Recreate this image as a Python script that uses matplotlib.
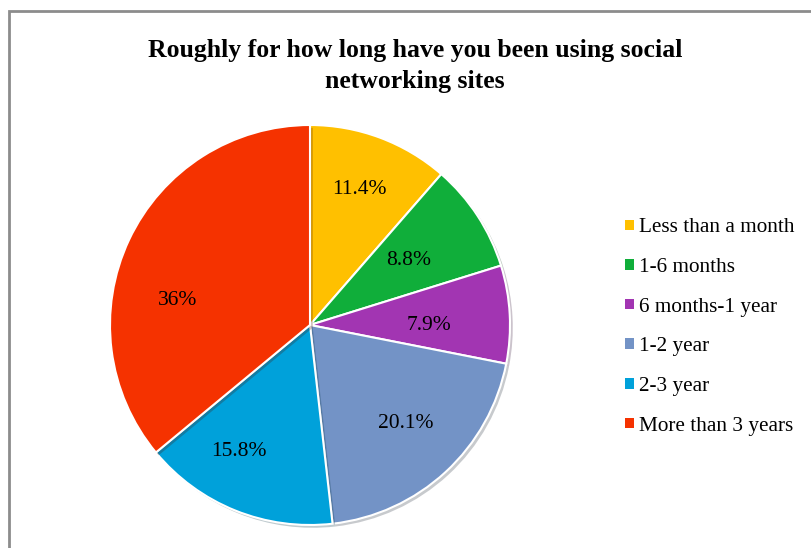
import matplotlib
matplotlib.use("Agg")
import matplotlib.pyplot as plt
from matplotlib.patches import Rectangle
import matplotlib.patheffects as pe

plt.rcParams['font.family'] = ['Liberation Serif', 'DejaVu Serif']

categories = ["Less than a month", "1-6 months", "6 months-1 year",
              "1-2 year", "2-3 year", "More than 3 years"]
shares = [11.4, 8.8, 7.9, 20.1, 15.8, 36]
pct_labels = ["11.4%", "8.8%", "7.9%", "20.1%", "15.8%", "36%"]
colors = ["#FFC000", "#10AE3A", "#A235B2", "#7393C6", "#00A1DA", "#F53200"]

# label anchor points inside each wedge (axes units, pie radius = 1)
label_xy = [(0.2475, 0.68), (0.495, 0.3225), (0.5925, 0.0),
            (0.4775, -0.4925), (-0.3575, -0.635), (-0.6625, 0.1225)]

W, H = 811, 548
fig = plt.figure(figsize=(W / 100, H / 100), dpi=100)

# chart frame (left and top edges visible)
fig.add_artist(Rectangle((8.5 / W, -0.1), 1.2, (H - 11.5) / H + 0.1,
                         transform=fig.transFigure, fill=False,
                         edgecolor="#8C8C8C", linewidth=2.0))

ax = fig.add_axes([110 / W, 23 / H, 400 / W, 400 / H])
wedges, _ = ax.pie(shares, colors=colors, startangle=90, counterclock=False,
                   radius=1.0,
                   wedgeprops=dict(edgecolor="white", linewidth=1.5))
for w in wedges:
    w.set_path_effects([pe.SimplePatchShadow(offset=(2, -2), alpha=0.25),
                        pe.Normal()])

for (x, y), lab in zip(label_xy, pct_labels):
    ax.text(x, y, lab, ha="center", va="center", fontsize=15.5, color="black")
ax.set_xlim(-1, 1)
ax.set_ylim(-1, 1)
ax.set_aspect("equal")

fig.text(415 / W, 1 - 66 / H,
         "Roughly for how long have you been using social\nnetworking sites",
         ha="center", va="center", fontsize=18.5, fontweight="bold",
         linespacing=1.45)

handles = [Rectangle((0, 0), 1, 1, facecolor=c) for c in colors]
fig.legend(handles, categories, loc="center left",
           bbox_to_anchor=(606 / W, 1 - 327 / H), frameon=False,
           fontsize=15.3, handlelength=0.4, handleheight=0.4,
           handletextpad=0.24, labelspacing=0.97)

fig.savefig("out.png", dpi=100)
